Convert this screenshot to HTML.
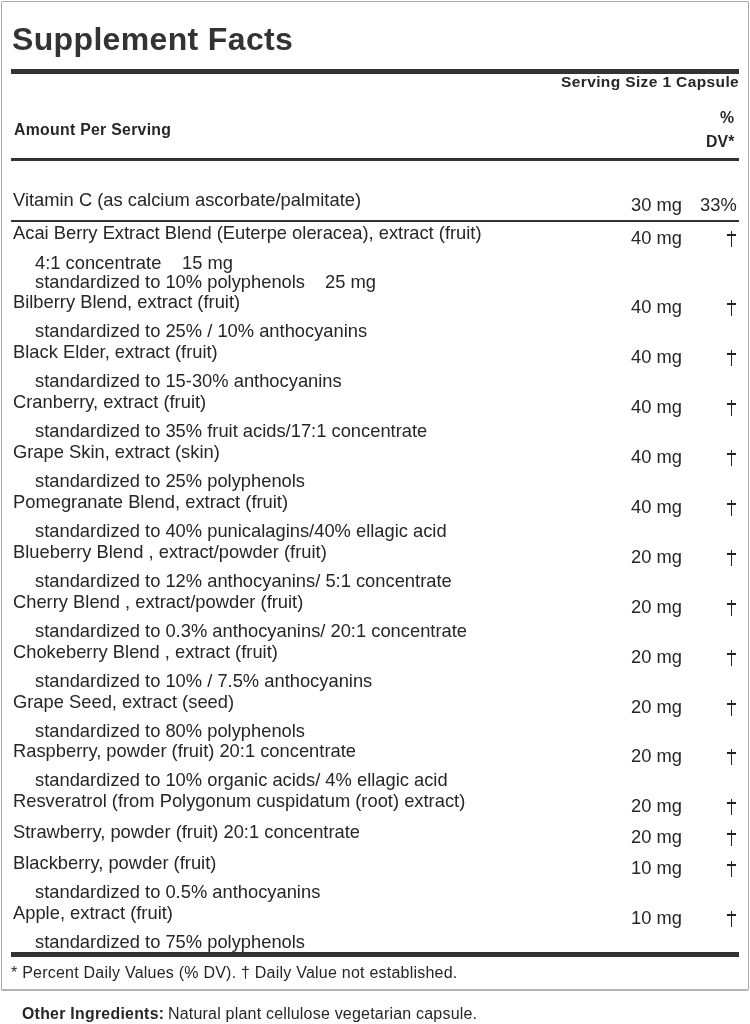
<!DOCTYPE html>
<html><head><meta charset="utf-8"><style>
html,body{margin:0;padding:0;background:#fff;width:750px;height:1024px;overflow:hidden;}
body{position:relative;font-family:"Liberation Sans",sans-serif;color:#262626;-webkit-font-smoothing:antialiased;}
.box{position:absolute;left:1px;top:1px;width:746px;height:987px;border:1px solid #aaa;border-bottom:2px solid #b4b4b4;border-radius:2px;}
.r{position:absolute;left:11px;width:728px;background:#333;}
.t{position:absolute;line-height:1;white-space:pre;will-change:transform;}
.dg{position:absolute;background:#222;}
</style></head><body>
<div class="box"></div>
<div class="r" style="top:69px;height:5px"></div>
<div class="r" style="top:158px;height:3px"></div>
<div class="r" style="top:220px;height:2px"></div>
<div class="r" style="top:952px;height:5px"></div>
<div class="t" style="top:23px;font-size:32px;font-weight:bold;letter-spacing:0.35px;left:12px;color:#333;">Supplement Facts</div>
<div class="t" style="top:74px;font-size:15.5px;font-weight:bold;letter-spacing:0.38px;right:11.200000000000045px;text-align:right;">Serving Size 1 Capsule</div>
<div class="t" style="top:122px;font-size:15.8px;font-weight:bold;letter-spacing:0.3px;left:14px;">Amount Per Serving</div>
<div class="t" style="top:110px;font-size:15.8px;font-weight:bold;right:15.5px;text-align:right;">%</div>
<div class="t" style="top:134px;font-size:15.8px;font-weight:bold;letter-spacing:0.2px;right:15.5px;text-align:right;">DV*</div>
<div class="t" style="top:191px;font-size:18.33px;left:13px;">Vitamin C (as calcium ascorbate/palmitate)</div>
<div class="t" style="top:196px;font-size:18.33px;right:67.70000000000005px;text-align:right;">30 mg</div>
<div class="t" style="top:196px;font-size:18.33px;right:13px;text-align:right;">33%</div>
<div class="t" style="top:224px;font-size:18.33px;left:13px;">Acai Berry Extract Blend (Euterpe oleracea), extract (fruit)</div>
<div class="t" style="top:229px;font-size:18.33px;right:67.70000000000005px;text-align:right;">40 mg</div>
<div class="dg" style="left:730.7px;top:230.7px;width:1.6px;height:16.6px"></div>
<div class="dg" style="left:727px;top:234.3px;width:9px;height:1.6px"></div>
<div class="t" style="top:254px;font-size:18.33px;left:35px;">4:1 concentrate</div>
<div class="t" style="top:254px;font-size:18.33px;left:182px;">15 mg</div>
<div class="t" style="top:273px;font-size:18.33px;left:35px;">standardized to 10% polyphenols</div>
<div class="t" style="top:273px;font-size:18.33px;left:325px;">25 mg</div>
<div class="t" style="top:293px;font-size:18.33px;left:13px;">Bilberry Blend, extract (fruit)</div>
<div class="t" style="top:298px;font-size:18.33px;right:67.70000000000005px;text-align:right;">40 mg</div>
<div class="dg" style="left:730.7px;top:299.7px;width:1.6px;height:16.6px"></div>
<div class="dg" style="left:727px;top:303.3px;width:9px;height:1.6px"></div>
<div class="t" style="top:322px;font-size:18.33px;left:35px;">standardized to 25% / 10% anthocyanins</div>
<div class="t" style="top:343px;font-size:18.33px;left:13px;">Black Elder, extract (fruit)</div>
<div class="t" style="top:348px;font-size:18.33px;right:67.70000000000005px;text-align:right;">40 mg</div>
<div class="dg" style="left:730.7px;top:349.7px;width:1.6px;height:16.6px"></div>
<div class="dg" style="left:727px;top:353.3px;width:9px;height:1.6px"></div>
<div class="t" style="top:372px;font-size:18.33px;left:35px;">standardized to 15-30% anthocyanins</div>
<div class="t" style="top:393px;font-size:18.33px;left:13px;">Cranberry, extract (fruit)</div>
<div class="t" style="top:398px;font-size:18.33px;right:67.70000000000005px;text-align:right;">40 mg</div>
<div class="dg" style="left:730.7px;top:399.7px;width:1.6px;height:16.6px"></div>
<div class="dg" style="left:727px;top:403.3px;width:9px;height:1.6px"></div>
<div class="t" style="top:422px;font-size:18.33px;left:35px;">standardized to 35% fruit acids/17:1 concentrate</div>
<div class="t" style="top:443px;font-size:18.33px;left:13px;">Grape Skin, extract (skin)</div>
<div class="t" style="top:448px;font-size:18.33px;right:67.70000000000005px;text-align:right;">40 mg</div>
<div class="dg" style="left:730.7px;top:449.7px;width:1.6px;height:16.6px"></div>
<div class="dg" style="left:727px;top:453.3px;width:9px;height:1.6px"></div>
<div class="t" style="top:472px;font-size:18.33px;left:35px;">standardized to 25% polyphenols</div>
<div class="t" style="top:493px;font-size:18.33px;left:13px;">Pomegranate Blend, extract (fruit)</div>
<div class="t" style="top:498px;font-size:18.33px;right:67.70000000000005px;text-align:right;">40 mg</div>
<div class="dg" style="left:730.7px;top:499.7px;width:1.6px;height:16.6px"></div>
<div class="dg" style="left:727px;top:503.3px;width:9px;height:1.6px"></div>
<div class="t" style="top:522px;font-size:18.33px;left:35px;">standardized to 40% punicalagins/40% ellagic acid</div>
<div class="t" style="top:543px;font-size:18.33px;left:13px;">Blueberry Blend , extract/powder (fruit)</div>
<div class="t" style="top:548px;font-size:18.33px;right:67.70000000000005px;text-align:right;">20 mg</div>
<div class="dg" style="left:730.7px;top:549.7px;width:1.6px;height:16.6px"></div>
<div class="dg" style="left:727px;top:553.3px;width:9px;height:1.6px"></div>
<div class="t" style="top:572px;font-size:18.33px;left:35px;">standardized to 12% anthocyanins/ 5:1 concentrate</div>
<div class="t" style="top:593px;font-size:18.33px;left:13px;">Cherry Blend , extract/powder (fruit)</div>
<div class="t" style="top:598px;font-size:18.33px;right:67.70000000000005px;text-align:right;">20 mg</div>
<div class="dg" style="left:730.7px;top:599.7px;width:1.6px;height:16.6px"></div>
<div class="dg" style="left:727px;top:603.3px;width:9px;height:1.6px"></div>
<div class="t" style="top:622px;font-size:18.33px;left:35px;">standardized to 0.3% anthocyanins/ 20:1 concentrate</div>
<div class="t" style="top:643px;font-size:18.33px;left:13px;">Chokeberry Blend , extract (fruit)</div>
<div class="t" style="top:648px;font-size:18.33px;right:67.70000000000005px;text-align:right;">20 mg</div>
<div class="dg" style="left:730.7px;top:649.7px;width:1.6px;height:16.6px"></div>
<div class="dg" style="left:727px;top:653.3px;width:9px;height:1.6px"></div>
<div class="t" style="top:672px;font-size:18.33px;left:35px;">standardized to 10% / 7.5% anthocyanins</div>
<div class="t" style="top:693px;font-size:18.33px;left:13px;">Grape Seed, extract (seed)</div>
<div class="t" style="top:698px;font-size:18.33px;right:67.70000000000005px;text-align:right;">20 mg</div>
<div class="dg" style="left:730.7px;top:699.7px;width:1.6px;height:16.6px"></div>
<div class="dg" style="left:727px;top:703.3px;width:9px;height:1.6px"></div>
<div class="t" style="top:722px;font-size:18.33px;left:35px;">standardized to 80% polyphenols</div>
<div class="t" style="top:742px;font-size:18.33px;left:13px;">Raspberry, powder (fruit) 20:1 concentrate</div>
<div class="t" style="top:747px;font-size:18.33px;right:67.70000000000005px;text-align:right;">20 mg</div>
<div class="dg" style="left:730.7px;top:748.7px;width:1.6px;height:16.6px"></div>
<div class="dg" style="left:727px;top:752.3px;width:9px;height:1.6px"></div>
<div class="t" style="top:771px;font-size:18.33px;left:35px;">standardized to 10% organic acids/ 4% ellagic acid</div>
<div class="t" style="top:792px;font-size:18.33px;left:13px;">Resveratrol (from Polygonum cuspidatum (root) extract)</div>
<div class="t" style="top:797px;font-size:18.33px;right:67.70000000000005px;text-align:right;">20 mg</div>
<div class="dg" style="left:730.7px;top:798.7px;width:1.6px;height:16.6px"></div>
<div class="dg" style="left:727px;top:802.3px;width:9px;height:1.6px"></div>
<div class="t" style="top:823px;font-size:18.33px;left:13px;">Strawberry, powder (fruit) 20:1 concentrate</div>
<div class="t" style="top:828px;font-size:18.33px;right:67.70000000000005px;text-align:right;">20 mg</div>
<div class="dg" style="left:730.7px;top:829.7px;width:1.6px;height:16.6px"></div>
<div class="dg" style="left:727px;top:833.3px;width:9px;height:1.6px"></div>
<div class="t" style="top:854px;font-size:18.33px;left:13px;">Blackberry, powder (fruit)</div>
<div class="t" style="top:859px;font-size:18.33px;right:67.70000000000005px;text-align:right;">10 mg</div>
<div class="dg" style="left:730.7px;top:860.7px;width:1.6px;height:16.6px"></div>
<div class="dg" style="left:727px;top:864.3px;width:9px;height:1.6px"></div>
<div class="t" style="top:883px;font-size:18.33px;left:35px;">standardized to 0.5% anthocyanins</div>
<div class="t" style="top:904px;font-size:18.33px;left:13px;">Apple, extract (fruit)</div>
<div class="t" style="top:909px;font-size:18.33px;right:67.70000000000005px;text-align:right;">10 mg</div>
<div class="dg" style="left:730.7px;top:910.7px;width:1.6px;height:16.6px"></div>
<div class="dg" style="left:727px;top:914.3px;width:9px;height:1.6px"></div>
<div class="t" style="top:933px;font-size:18.33px;left:35px;">standardized to 75% polyphenols</div>
<div class="t" style="top:965px;font-size:16px;letter-spacing:0.23px;left:11px;">* Percent Daily Values (% DV). &dagger; Daily Value not established.</div>
<div class="t" style="top:1006px;font-size:15.8px;font-weight:bold;letter-spacing:0.3px;left:22px;">Other Ingredients:</div>
<div class="t" style="top:1006px;font-size:16px;letter-spacing:0.2px;left:168px;">Natural plant cellulose vegetarian capsule.</div>
</body></html>
